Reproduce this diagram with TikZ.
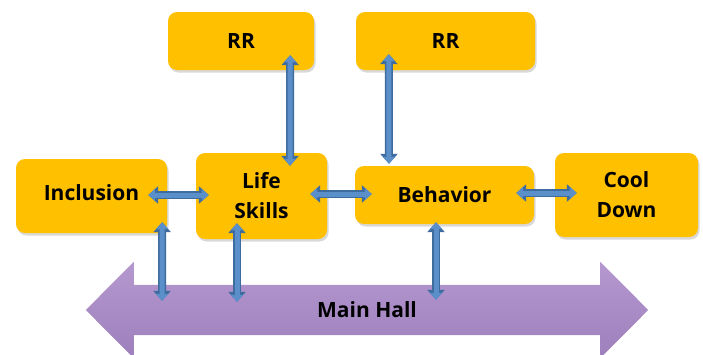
\documentclass[tikz,border=0pt]{standalone}
\usepackage{fontspec}
\setmainfont{Open Sans}
\usetikzlibrary{arrows.meta,shadows,backgrounds}
\definecolor{boxgold}{HTML}{FFC000}
\definecolor{linkblue}{HTML}{5B8FC9}
\definecolor{linkedge}{HTML}{3E6C9F}
\definecolor{halltop}{HTML}{B598CF}
\definecolor{hallbot}{HTML}{9D80BC}

\tikzset{
  room/.style={fill=boxgold, rounded corners=9pt, align=center, inner sep=0pt,
    font=\bfseries\fontsize{21}{30}\selectfont,
    drop shadow={shadow xshift=1.5pt, shadow yshift=-2.5pt, opacity=0.3}},
  hall/.style={minimum width=466pt, minimum height=50pt, inner sep=0pt,
    font=\bfseries\fontsize{21}{30}\selectfont},
  link/.style={preaction={draw=linkedge, line width=8pt,
      {Triangle[width=17pt,length=10pt]}-{Triangle[width=17pt,length=10pt]}},
    draw=linkblue, line width=5pt,
    {Triangle[width=12pt,length=7pt]}-{Triangle[width=12pt,length=7pt]}},
}

\begin{document}
\begin{tikzpicture}[x=1pt,y=-1pt]
  \useasboundingbox (0,0) rectangle (703,354);
  \clip (0,0) rectangle (703,354);

  % main hall
  \node[hall] (hall) at (367,310) {Main Hall};
  \begin{scope}[on background layer]
    \shade[top color=halltop, bottom color=hallbot]
      (hall.north west) -- ([yshift=23pt]hall.north west) -- ([xshift=-48pt]hall.west)
      -- ([yshift=-23pt]hall.south west) -- (hall.south west) -- (hall.south east)
      -- ([yshift=-23pt]hall.south east) -- ([xshift=48pt]hall.east)
      -- ([yshift=23pt]hall.north east) -- (hall.north east) -- cycle;
  \end{scope}

  % rooms
  \node[room, minimum width=146pt, minimum height=58pt] (rrA) at (241,41) {RR};
  \node[room, minimum width=179pt, minimum height=58pt] (rrB) at (445.5,41) {RR};
  \node[room, minimum width=151pt, minimum height=74pt] (inclusion) at (91.5,196) {\raisebox{7pt}{Inclusion}};
  \node[room, minimum width=131pt, minimum height=86pt] (lifeskills) at (261.5,196) {Life\\Skills};
  \node[room, minimum width=179pt, minimum height=58pt] (behavior) at (444.5,195) {Behavior};
  \node[room, minimum width=143pt, minimum height=84pt] (cooldown) at (626.5,195) {Cool\\Down};

  % links
  \draw[link] ([xshift=-24pt,yshift=15pt]rrA.south east) -- ([xshift=28.5pt,yshift=-13pt]lifeskills.north);
  \draw[link] ([xshift=33pt,yshift=16pt]rrB.south west) -- ([xshift=-55.5pt,yshift=2pt]behavior.north);
  \draw[link] ([xshift=-19pt,yshift=1pt]inclusion.east) -- ([xshift=13pt,yshift=1pt]lifeskills.west);
  \draw[link] ([xshift=-17pt,yshift=2pt]lifeskills.east) -- ([xshift=17pt,yshift=1pt]behavior.west);
  \draw[link] ([xshift=-18pt,yshift=2pt]behavior.east) -- ([xshift=22pt,yshift=2pt]cooldown.west);
  \draw[link] ([xshift=-5pt,yshift=11pt]inclusion.south east) -- ([xshift=-205pt,yshift=-16pt]hall.north);
  \draw[link] ([xshift=-24.5pt,yshift=16pt]lifeskills.south) -- ([xshift=-130pt,yshift=-17pt]hall.north);
  \draw[link] ([xshift=-8.5pt,yshift=2pt]behavior.south) -- ([xshift=69pt,yshift=-15pt]hall.north);
\end{tikzpicture}
\end{document}
